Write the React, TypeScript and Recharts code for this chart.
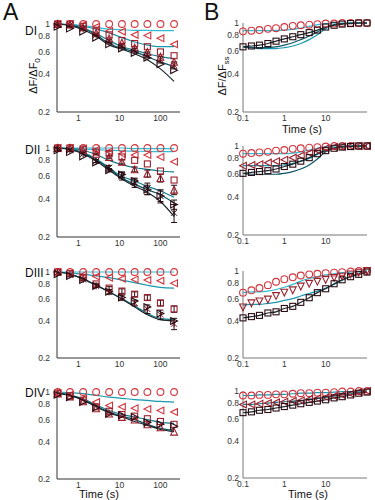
import { ComposedChart, Line, Scatter, XAxis, YAxis, ErrorBar } from 'recharts'

// time points (s)
const tA = [0.31, 0.62, 1.3, 2.7, 5.6, 11.5, 23.5, 48, 100, 215]
const tB = [0.1, 0.16, 0.25, 0.4, 0.63, 1, 1.6, 2.5, 4, 6.3, 10, 16, 25, 40, 63, 100]
const xTicksA = [1, 10, 100]
const xTicksB = [0.1, 1, 10]
const yTicks = [0.2, 0.4, 0.6, 0.8, 1]

// DI
const d1Circ = [1, 1, 1, 1, 1, 1, 1, 1, 1, 1]
const d1Left = [1, 1, 0.98, 0.95, 0.88, 0.87, 0.82, 0.81, 0.77, 0.69]
const d1Sq = [1, 1, 0.96, 0.88, 0.82, 0.74, 0.7, 0.66, 0.6, 0.56]
const d1Up = [1, 0.99, 0.94, 0.85, 0.77, 0.71, 0.65, 0.6, 0.55, 0.5]
const d1Star = [1, 0.98, 0.92, 0.82, 0.73, 0.67, 0.62, 0.57, 0.52, 0.47]
const d1Right = [0.95, 0.92, 0.87, 0.78, 0.69, 0.64, 0.59, 0.54, 0.48, 0.43]
const d1StarErr = [0, 0, 0, 0.01, 0.02, 0.02, 0.02, 0.03, 0.03, 0.03]
const d1Fit1 = [1, 0.99, 0.97, 0.94, 0.91, 0.9, 0.89, 0.89, 0.885, 0.885]
const d1Fit2 = [1, 0.99, 0.96, 0.91, 0.85, 0.78, 0.72, 0.68, 0.66, 0.66]
const d1Fit3 = [1, 0.98, 0.93, 0.84, 0.74, 0.66, 0.62, 0.58, 0.55, 0.53]
const d1Fit4 = [1, 0.98, 0.92, 0.82, 0.7, 0.64, 0.6, 0.55, 0.5, 0.46]
const d1Fit5 = [1, 0.97, 0.9, 0.8, 0.68, 0.63, 0.58, 0.52, 0.44, 0.35]

// DII
const d2Circ = [1, 1, 1, 1, 1, 1, 1, 1, 1, 1]
const d2Left = [1, 1, 0.99, 0.97, 0.94, 0.9, 0.88, 0.88, 0.85, 0.78]
const d2Sq = [1, 1, 0.98, 0.93, 0.9, 0.85, 0.8, 0.75, 0.66, 0.56]
const d2Up = [1, 1, 0.96, 0.9, 0.85, 0.78, 0.68, 0.63, 0.58, 0.47]
const d2Star = [0.98, 0.96, 0.9, 0.79, 0.7, 0.6, 0.53, 0.48, 0.42, 0.31]
const d2Right = [0.96, 0.93, 0.86, 0.77, 0.67, 0.62, 0.55, 0.47, 0.42, 0.36]
const d2UpErr = [0, 0, 0, 0.01, 0.02, 0.03, 0.03, 0.04, 0.04, 0.04]
const d2StarErr = [0, 0, 0, 0.02, 0.03, 0.04, 0.04, 0.05, 0.05, 0.05]
const d2RightErr = [0, 0, 0, 0, 0.02, 0.03, 0.03, 0.04, 0.04, 0.03]
const d2Fit1 = [1, 1, 1, 1, 1, 1, 0.99, 0.99, 0.99, 0.99]
const d2Fit2 = [1, 0.99, 0.98, 0.97, 0.96, 0.95, 0.945, 0.94, 0.935, 0.935]
const d2Fit3 = [1, 0.99, 0.96, 0.89, 0.8, 0.74, 0.7, 0.68, 0.66, 0.65]
const d2Fit4 = [1, 0.98, 0.92, 0.82, 0.7, 0.6, 0.55, 0.5, 0.46, 0.41]
const d2Fit5 = [1, 0.98, 0.91, 0.81, 0.69, 0.58, 0.52, 0.47, 0.43, 0.37]
const d2Fit6 = [1, 0.97, 0.9, 0.79, 0.67, 0.57, 0.5, 0.45, 0.38, 0.29]

// DIII
const d3Circ = [1, 1, 1, 1, 1, 1, 1, 1, 1, 1]
const d3Left = [1, 0.97, 0.95, 0.92, 0.9, 0.88, 0.87, 0.86, 0.85, 0.81]
const d3Sq = [1, 0.97, 0.9, 0.8, 0.74, 0.7, 0.66, 0.62, 0.56, 0.5]
const d3Star = [0.99, 0.95, 0.87, 0.77, 0.69, 0.62, 0.56, 0.5, 0.45, 0.38]
const d3Right = [0.96, 0.93, 0.86, 0.77, 0.69, 0.62, 0.58, 0.52, 0.46, 0.4]
const d3SqErr = [0, 0, 0, 0.01, 0.02, 0.03, 0.03, 0.03, 0.03, 0.03]
const d3StarErr = [0, 0, 0.01, 0.02, 0.03, 0.03, 0.03, 0.04, 0.04, 0.04]
const d3Fit1 = [1, 1, 1, 1, 1, 1, 1, 1, 1, 1]
const d3Fit2 = [1, 0.98, 0.96, 0.93, 0.9, 0.86, 0.82, 0.78, 0.75, 0.74]
const d3Fit3 = [1, 0.96, 0.88, 0.78, 0.69, 0.61, 0.53, 0.46, 0.42, 0.41]
const d3Fit4 = [1, 0.96, 0.88, 0.78, 0.69, 0.6, 0.52, 0.45, 0.41, 0.4]

// DIV
const d4Circ = [1, 1, 1, 1, 1, 1, 1, 1, 1, 1]
const d4Left = [0.98, 0.95, 0.88, 0.83, 0.78, 0.76, 0.74, 0.73, 0.71, 0.69]
const d4Sq = [0.98, 0.93, 0.86, 0.76, 0.7, 0.66, 0.64, 0.61, 0.58, 0.55]
const d4Up = [0.97, 0.92, 0.84, 0.74, 0.67, 0.63, 0.6, 0.55, 0.52, 0.48]
const d4Right = [0.95, 0.91, 0.83, 0.75, 0.67, 0.65, 0.63, 0.57, 0.55, 0.53]
const d4Fit1 = [1, 0.99, 0.97, 0.94, 0.91, 0.89, 0.87, 0.855, 0.84, 0.83]
const d4Fit2 = [0.98, 0.95, 0.88, 0.79, 0.71, 0.66, 0.63, 0.6, 0.57, 0.56]
const d4Fit3 = [0.98, 0.94, 0.87, 0.77, 0.69, 0.64, 0.6, 0.55, 0.51, 0.49]
const d4Fit4 = [0.98, 0.94, 0.86, 0.76, 0.68, 0.63, 0.58, 0.54, 0.5, 0.48]

// B1
const b1Circ = [0.86, 0.87, 0.88, 0.9, 0.91, 0.93, 0.95, 0.96, 0.97, 0.98, 0.99, 0.99, 1, 1, 1, 1]
const b1Sq = [0.65, 0.66, 0.67, 0.69, 0.72, 0.75, 0.78, 0.81, 0.84, 0.88, 0.93, 0.96, 0.98, 0.99, 1, 1]
const b1Fit1 = [0.87, 0.87, 0.87, 0.87, 0.875, 0.88, 0.89, 0.91, 0.94, 0.97, 0.99, 1, 1, 1, 1, 1]
const b1Fit2 = [0.65, 0.64, 0.63, 0.63, 0.63, 0.64, 0.66, 0.69, 0.74, 0.81, 0.9, 0.96, 0.99, 1, 1, 1]
const b1Fit3 = [0.65, 0.64, 0.64, 0.64, 0.65, 0.67, 0.7, 0.74, 0.79, 0.85, 0.92, 0.97, 0.99, 1, 1, 1]

// B2
const b2Circ = [0.87, 0.88, 0.89, 0.9, 0.92, 0.93, 0.95, 0.96, 0.97, 0.98, 0.99, 1, 1, 1, 1, 1]
const b2Left = [0.7, 0.71, 0.72, 0.74, 0.76, 0.78, 0.81, 0.84, 0.88, 0.92, 0.96, 0.98, 0.99, 1, 1, 1]
const b2Sq = [0.61, 0.62, 0.63, 0.64, 0.66, 0.69, 0.72, 0.76, 0.81, 0.87, 0.92, 0.96, 0.98, 0.99, 1, 1]
const b2Fit1 = [0.87, 0.87, 0.87, 0.87, 0.87, 0.87, 0.88, 0.9, 0.93, 0.96, 0.99, 1, 1, 1, 1, 1]
const b2Fit2 = [0.7, 0.7, 0.7, 0.7, 0.7, 0.71, 0.73, 0.76, 0.8, 0.86, 0.93, 0.97, 0.99, 1, 1, 1]
const b2Fit3 = [0.61, 0.6, 0.6, 0.6, 0.6, 0.61, 0.63, 0.66, 0.71, 0.79, 0.9, 0.96, 0.99, 1, 1, 1]

// B3
const b3Circ = [0.67, 0.7, 0.73, 0.77, 0.82, 0.86, 0.89, 0.92, 0.94, 0.95, 0.96, 0.97, 0.98, 0.99, 1, 1]
const b3Down = [0.51, 0.55, 0.57, 0.59, 0.63, 0.67, 0.7, 0.75, 0.79, 0.82, 0.85, 0.88, 0.9, 0.94, 0.97, 1]
const b3Sq = [0.42, 0.43, 0.44, 0.46, 0.47, 0.5, 0.52, 0.56, 0.61, 0.67, 0.72, 0.79, 0.85, 0.9, 0.94, 0.98]
const b3Fit1 = [0.67, 0.68, 0.68, 0.69, 0.71, 0.74, 0.78, 0.83, 0.87, 0.9, 0.93, 0.95, 0.97, 0.98, 0.99, 1]
const b3Fit2 = [0.53, 0.54, 0.54, 0.55, 0.56, 0.58, 0.6, 0.63, 0.66, 0.69, 0.73, 0.78, 0.84, 0.9, 0.96, 1]

// B4
const b4Circ = [0.92, 0.92, 0.93, 0.93, 0.94, 0.94, 0.95, 0.96, 0.96, 0.97, 0.97, 0.98, 0.99, 0.99, 1, 1]
const b4Left = [0.78, 0.78, 0.79, 0.8, 0.81, 0.82, 0.83, 0.84, 0.86, 0.87, 0.89, 0.91, 0.93, 0.95, 0.98, 1]
const b4Sq = [0.67, 0.68, 0.7, 0.71, 0.73, 0.75, 0.77, 0.79, 0.81, 0.83, 0.85, 0.88, 0.9, 0.93, 0.96, 0.98]

const RED = '#d2353d'
const DRED = '#9c1f2b'
const MAROON = '#6e1420'
const DARK = '#2a0c12'
const CYAN = '#30bcd4'
const TEAL = '#1a98ae'
const TEAL2 = '#137a8a'
const TEAL3 = '#0c5664'
const INK = '#16262c'
const FONT = '"Liberation Sans", Arial, sans-serif'

type Fit = { v: number[]; c: string }
type Mark = { v: number[]; k: string; c: string; e?: number[] }

function Marker({ cx, cy, k, c }: { cx?: number; cy?: number; k: string; c: string }) {
  if (cx == null || cy == null) return null
  const s = 3.4
  const p = { fill: 'none', stroke: c, strokeWidth: 1.1 }
  if (k === 'o') return <circle cx={cx} cy={cy} r={s} {...p} />
  if (k === 's') return <rect x={cx - 3} y={cy - 3} width={6} height={6} {...p} />
  if (k === '<') return <polygon points={`${cx - s},${cy} ${cx + s},${cy - s} ${cx + s},${cy + s}`} {...p} />
  if (k === '>') return <polygon points={`${cx + s},${cy} ${cx - s},${cy - s} ${cx - s},${cy + s}`} {...p} />
  if (k === '^') return <polygon points={`${cx},${cy - s} ${cx - s},${cy + s} ${cx + s},${cy + s}`} {...p} />
  if (k === 'v') return <polygon points={`${cx},${cy + s} ${cx - s},${cy - s} ${cx + s},${cy - s}`} {...p} />
  return (
    <g stroke={c} strokeWidth={1}>
      <line x1={cx - 3} y1={cy - 3} x2={cx + 3} y2={cy + 3} />
      <line x1={cx - 3} y1={cy + 3} x2={cx + 3} y2={cy - 3} />
      <line x1={cx} y1={cy - 3.5} x2={cx} y2={cy + 3.5} />
    </g>
  )
}

const toRows = (t: number[], v: number[], e?: number[]) => t.map((x, i) => ({ x, y: v[i], e: e ? e[i] : 0 }))

interface PanelProps {
  x: number
  y: number
  w: number
  h: number
  t: number[]
  xDomain: [number, number]
  xTicks: number[]
  axis: string
  yGap: number
  fits: Fit[]
  marks: Mark[]
}

function Panel({ x, y, w, h, t, xDomain, xTicks, axis, yGap, fits, marks }: PanelProps) {
  const YW = 30
  const MT = 6
  const MR = 6
  const XH = 16
  const tick = { fontSize: 8.5, fill: '#333', fontFamily: FONT }
  return (
    <div style={{ position: 'absolute', left: x - YW, top: y - MT }}>
      <ComposedChart width={w + YW + MR} height={h + MT + XH} margin={{ top: MT, right: MR, bottom: 0, left: 0 }}>
        <XAxis
          dataKey="x"
          type="number"
          scale="log"
          domain={xDomain}
          ticks={xTicks}
          interval={0}
          height={XH}
          tick={tick}
          tickLine={false}
          tickSize={2}
          tickMargin={1}
          axisLine={{ stroke: axis }}
          tickFormatter={(v: number) => String(v)}
        />
        <YAxis
          type="number"
          scale="log"
          domain={[0.2, 1]}
          ticks={yTicks}
          interval={0}
          width={YW}
          tick={tick}
          tickLine={false}
          tickSize={2}
          tickMargin={yGap}
          axisLine={{ stroke: axis }}
          tickFormatter={(v: number) => String(v)}
        />
        {fits.map((f, i) => (
          <Line
            key={'f' + i}
            data={toRows(t, f.v)}
            dataKey="y"
            type="monotone"
            stroke={f.c}
            strokeWidth={1.2}
            dot={false}
            activeDot={false}
            isAnimationActive={false}
          />
        ))}
        {marks.map((m, i) => (
          <Scatter
            key={'m' + i}
            data={toRows(t, m.v, m.e)}
            dataKey="y"
            isAnimationActive={false}
            shape={(p: any) => <Marker cx={p.cx} cy={p.cy} k={m.k} c={m.c} />}
          >
            {m.e && <ErrorBar dataKey="e" direction="y" width={3} stroke={DARK} strokeWidth={1} />}
          </Scatter>
        ))}
      </ComposedChart>
    </div>
  )
}

export default function App() {
  const A = { x: 57, w: 123, t: tA, xDomain: [0.3, 300] as [number, number], xTicks: xTicksA, axis: '#333', yGap: 5 }
  const B = { x: 243, w: 124, t: tB, xDomain: [0.1, 100] as [number, number], xTicks: xTicksB, axis: '#777', yGap: 2 }
  const lbl = { fontSize: 12, fill: '#111' }
  return (
    <div style={{ position: 'absolute', left: 0, top: 0, width: 375, height: 500, background: '#fff', fontFamily: FONT }}>
      <Panel
        {...A}
        y={24}
        h={88}
        fits={[
          { v: d1Fit1, c: CYAN },
          { v: d1Fit2, c: TEAL },
          { v: d1Fit3, c: TEAL2 },
          { v: d1Fit4, c: TEAL3 },
          { v: d1Fit5, c: INK },
        ]}
        marks={[
          { v: d1Circ, k: 'o', c: RED },
          { v: d1Left, k: '<', c: RED },
          { v: d1Sq, k: 's', c: DRED },
          { v: d1Up, k: '^', c: DRED },
          { v: d1Star, k: '*', c: MAROON, e: d1StarErr },
          { v: d1Right, k: '>', c: DARK },
        ]}
      />
      <Panel
        {...A}
        y={148}
        h={89}
        fits={[
          { v: d2Fit1, c: CYAN },
          { v: d2Fit2, c: CYAN },
          { v: d2Fit3, c: TEAL2 },
          { v: d2Fit4, c: TEAL2 },
          { v: d2Fit5, c: TEAL3 },
          { v: d2Fit6, c: INK },
        ]}
        marks={[
          { v: d2Circ, k: 'o', c: RED },
          { v: d2Left, k: '<', c: RED },
          { v: d2Sq, k: 's', c: DRED },
          { v: d2Up, k: '^', c: DRED, e: d2UpErr },
          { v: d2Star, k: '*', c: DARK, e: d2StarErr },
          { v: d2Right, k: '>', c: DARK, e: d2RightErr },
        ]}
      />
      <Panel
        {...A}
        y={272}
        h={86}
        fits={[
          { v: d3Fit1, c: CYAN },
          { v: d3Fit2, c: TEAL },
          { v: d3Fit3, c: TEAL2 },
          { v: d3Fit4, c: INK },
        ]}
        marks={[
          { v: d3Circ, k: 'o', c: RED },
          { v: d3Left, k: '<', c: RED },
          { v: d3Sq, k: 's', c: DRED, e: d3SqErr },
          { v: d3Star, k: '*', c: MAROON, e: d3StarErr },
          { v: d3Right, k: '>', c: DARK },
        ]}
      />
      <Panel
        {...A}
        y={392}
        h={87}
        fits={[
          { v: d4Fit1, c: TEAL },
          { v: d4Fit2, c: TEAL2 },
          { v: d4Fit3, c: TEAL3 },
          { v: d4Fit4, c: INK },
        ]}
        marks={[
          { v: d4Circ, k: 'o', c: RED },
          { v: d4Left, k: '<', c: RED },
          { v: d4Sq, k: 's', c: DRED },
          { v: d4Up, k: '^', c: DRED },
          { v: d4Right, k: '>', c: DARK },
        ]}
      />
      <Panel
        {...B}
        y={23}
        h={89}
        fits={[
          { v: b1Fit1, c: CYAN },
          { v: b1Fit2, c: TEAL },
          { v: b1Fit3, c: TEAL3 },
          { v: b1Sq, c: INK },
        ]}
        marks={[
          { v: b1Circ, k: 'o', c: RED },
          { v: b1Sq, k: 's', c: DARK },
        ]}
      />
      <Panel
        {...B}
        y={146}
        h={89}
        fits={[
          { v: b2Fit1, c: CYAN },
          { v: b2Fit2, c: TEAL },
          { v: b2Fit3, c: TEAL3 },
          { v: b2Sq, c: INK },
        ]}
        marks={[
          { v: b2Circ, k: 'o', c: RED },
          { v: b2Left, k: '<', c: DRED },
          { v: b2Sq, k: 's', c: DARK },
        ]}
      />
      <Panel
        {...B}
        y={271}
        h={87}
        fits={[
          { v: b3Fit1, c: CYAN },
          { v: b3Fit2, c: TEAL },
          { v: b3Sq, c: INK },
        ]}
        marks={[
          { v: b3Circ, k: 'o', c: RED },
          { v: b3Down, k: 'v', c: DRED },
          { v: b3Sq, k: 's', c: DARK },
        ]}
      />
      <Panel
        {...B}
        y={391}
        h={87}
        fits={[
          { v: b4Circ, c: TEAL },
          { v: b4Left, c: TEAL2 },
          { v: b4Sq, c: INK },
        ]}
        marks={[
          { v: b4Circ, k: 'o', c: RED },
          { v: b4Left, k: '<', c: DRED },
          { v: b4Sq, k: 's', c: DARK },
        ]}
      />
      <svg width={375} height={500} style={{ position: 'absolute', left: 0, top: 0, pointerEvents: 'none' }} fontFamily={FONT}>
        <text x={3} y={20} fontSize={23} fill="#111">A</text>
        <text x={204} y={20} fontSize={23} fill="#111">B</text>
        <text x={25} y={35} {...lbl}>DI</text>
        <text x={25} y={154} {...lbl}>DII</text>
        <text x={25} y={277} {...lbl}>DIII</text>
        <text x={25} y={396.5} {...lbl}>DIV</text>
        <text transform="translate(37,76) rotate(-90)" textAnchor="middle" fontSize={11} fill="#111">
          ΔF/ΔF<tspan fontSize={8} dy={3}>0</tspan>
        </text>
        <text transform="translate(226,76) rotate(-90)" textAnchor="middle" fontSize={11} fill="#111">
          ΔF/ΔF<tspan fontSize={8} dy={3}>ss</tspan>
        </text>
        <text x={302} y={133} textAnchor="middle" fontSize={11} fill="#111">Time (s)</text>
        <text x={99} y={498} textAnchor="middle" fontSize={11} fill="#111">Time (s)</text>
        <text x={308} y={498} textAnchor="middle" fontSize={11} fill="#111">Time (s)</text>
      </svg>
    </div>
  )
}
